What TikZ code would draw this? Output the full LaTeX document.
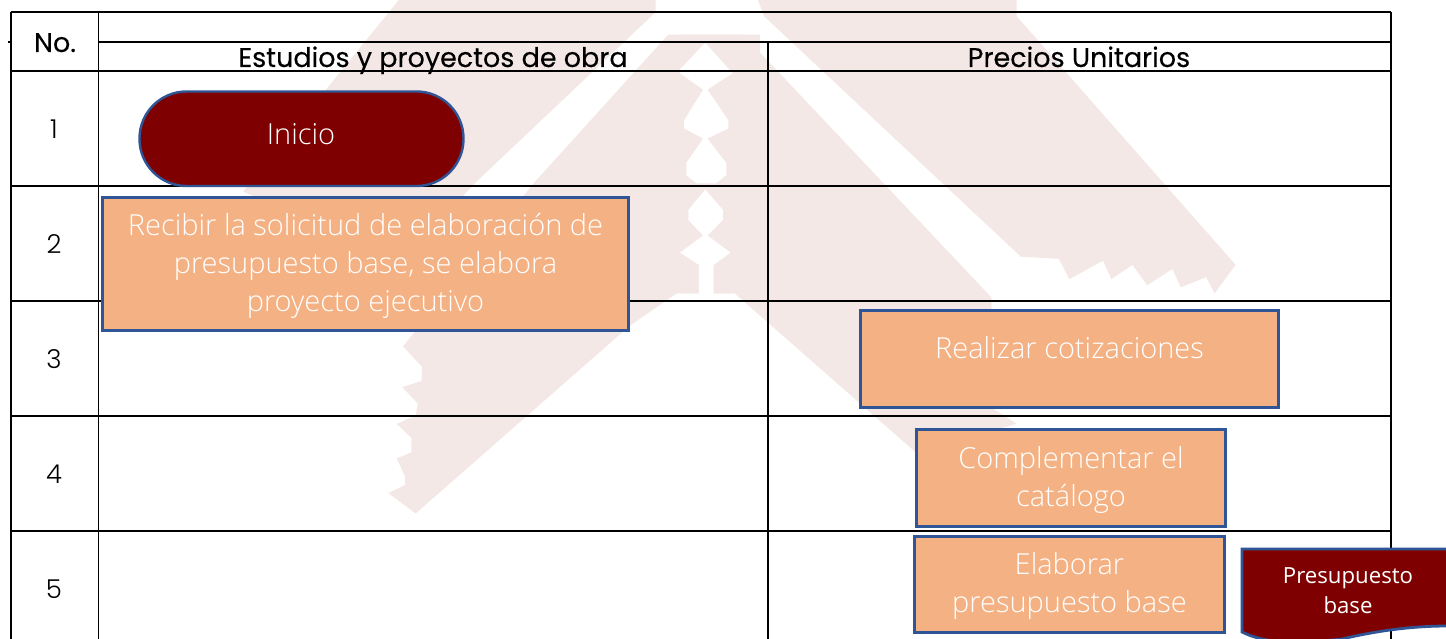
\documentclass[tikz,border=0pt]{standalone}
\usepackage{fontspec}
\setmainfont{Open Sans}[UprightFont=* Light]
\newfontfamily\docfont{Open Sans}
\newfontfamily\headfont{Poppins}[FakeBold=0.25]
\newfontfamily\numfont{Poppins}[UprightFont=* Light]
\definecolor{wm}{HTML}{F3E8E6}
\definecolor{maroon}{HTML}{7F0000}
\definecolor{peach}{HTML}{F4B183}
\definecolor{edgeblue}{HTML}{2F5597}
\tikzset{
  grid/.style={line width=1.9pt,black},
  thin grid/.style={line width=1.1pt,black},
  stepbox/.style={draw=edgeblue,fill=peach,line width=2.7pt,rectangle,inner sep=0pt},
  startbox/.style={draw=edgeblue,fill=maroon,line width=2.4pt,rounded corners=47pt},
  boxtext/.style={text=white,font=\fontsize{29}{38}\selectfont,align=center,inner sep=0pt},
  headtext/.style={font=\headfont\fontsize{27}{30}\selectfont,inner sep=0pt,text=black,anchor=base},
  numtext/.style={font=\numfont\fontsize{26}{28}\selectfont,inner sep=0pt,text=black},
  wmfill/.style={fill=wm,draw=none},
  wmwhite/.style={fill=white,draw=none}
}
\begin{document}
\begin{tikzpicture}[x=1pt,y=-1pt]
\useasboundingbox (0,0) rectangle (1446,639);
\fill[white] (0,0) rectangle (1446,639);
% watermark, left half (coordinates in the crop of x=100..760)
\begin{scope}[shift={(100,0)},x=0.42088pt,y=-0.40750pt]
\fill[wmfill] (710,0) -- (1320,0) -- (1320,30) -- (890,450) -- (720,640) -- (340,470) -- cycle;
\fill[wmfill] (1350,85) -- (1030,450) -- (720,850) -- (765,900) -- (764,935) -- (718,950) -- (755,990) -- (750,1020) -- (705,1040) -- (740,1075) -- (740,1110) -- (705,1125) -- (725,1170) -- (725,1190) -- (685,1210) -- (750,1260) -- (1258,800) -- (1370,720) -- (1568,720) -- (1568,85) -- (1530,85) -- cycle;
\fill[wmwhite] (1440,105) -- (1505,180) -- (1445,220) -- (1495,295) -- (1495,315) -- (1445,340) -- (1490,400) -- (1490,430) -- (1465,450) -- (1420,450) -- (1395,430) -- (1395,400) -- (1435,340) -- (1390,315) -- (1390,295) -- (1435,220) -- (1380,180) -- cycle;
\fill[wmwhite] (1440,465) -- (1482,515) -- (1482,540) -- (1445,578) -- (1500,620) -- (1460,650) -- (1460,730) -- (1425,730) -- (1425,650) -- (1380,620) -- (1435,578) -- (1400,540) -- (1400,515) -- cycle;
\end{scope}
% watermark, right half (coordinates in the crop of x=680..1340)
\begin{scope}[shift={(680,0)},x=0.42088pt,y=-0.40750pt]
\fill[wmfill] (185,0) -- (800,0) -- (800,40) -- (1320,650) -- (1270,720) -- (1250,680) -- (1190,705) -- (1170,660) -- (1110,700) -- (1075,650) -- (1025,685) -- (1005,640) -- (925,685) -- (900,635) -- (810,630) -- (200,40) -- cycle;
\fill[wmfill] (150,85) -- (740,730) -- (740,1000) -- (800,1040) -- (560,1110) -- (130,720) -- (0,720) -- (0,85) -- cycle;
\fill[wmwhite] (60,105) -- (125,180) -- (65,220) -- (115,295) -- (115,315) -- (65,340) -- (110,400) -- (110,430) -- (85,450) -- (40,450) -- (15,430) -- (15,400) -- (55,340) -- (10,315) -- (10,295) -- (55,220) -- (0,180) -- (0,170) -- cycle;
\fill[wmwhite] (60,465) -- (102,515) -- (102,540) -- (65,578) -- (120,620) -- (80,650) -- (80,730) -- (45,730) -- (45,650) -- (0,620) -- (55,578) -- (20,540) -- (20,515) -- cycle;
\end{scope}
% table grid
\coordinate (tl) at (11,12); \coordinate (tr) at (1391,12);
\coordinate (bl) at (11,639); \coordinate (br) at (1391,639);
\draw[grid] (tl) -- (tr);
\draw[grid] (99,42) -- (1391,42);
\foreach \yy in {71,186,301,416,531} \draw[grid] (11,\yy) -- (1391,\yy);
\draw[grid] (tl) -- (bl);
\draw[grid] (tr) -- (br);
\draw[thin grid] (98.5,12) -- (98.5,639);
\draw[thin grid] (768,42) -- (768,639);
\draw[thin grid] (8,42) -- (11,42);
% table text
\node[headtext] (no) at (55,52) {No.};
\node[headtext] (h1) at (433,67) {Estudios y proyectos de obra};
\node[headtext] (h2) at (1079,67) {Precios Unitarios};
\node[numtext] (n1) at (54,129) {1};
\node[numtext] (n2) at (54,244) {2};
\node[numtext] (n3) at (54,359) {3};
\node[numtext] (n4) at (54,474) {4};
\node[numtext] (n5) at (54,589) {5};
% process shapes
\draw[startbox] (139.5,91.5) rectangle (463.5,186);
\node[boxtext] (inicio) at (301,134) {Inicio};
\node[stepbox,minimum width=526pt,minimum height=133.5pt] (b2) at (365.5,264) {};
\node[boxtext] (t2) at (365.5,266) {Recibir la solicitud de elaboración de\\presupuesto base, se elabora\\proyecto ejecutivo};
\node[stepbox,minimum width=418pt,minimum height=97pt] (b3) at (1069.5,359) {};
\node[boxtext] (t3) at (1069.5,348) {Realizar cotizaciones};
\node[stepbox,minimum width=309pt,minimum height=97pt] (b4) at (1071,478) {};
\node[boxtext] (t4) at (1071,480) {Complementar el\\catálogo};
\node[stepbox,minimum width=310pt,minimum height=96pt] (b5) at (1069.5,584.5) {};
\node[boxtext] (t5) at (1069.5,586) {Elaborar\\presupuesto base};
% document shape
\draw[fill=maroon,draw=edgeblue,line width=2.8pt] (1448,549) -- (1242,549) -- (1242,632) .. controls (1262,642) and (1290,645) .. (1342,639) .. controls (1380,630) and (1415,626) .. (1448,626);
\node[text=white,font=\docfont\fontsize{22.2}{30}\selectfont,align=center,inner sep=0pt] (doc) at (1348,590.5) {Presupuesto\\base};
\end{tikzpicture}
\end{document}
